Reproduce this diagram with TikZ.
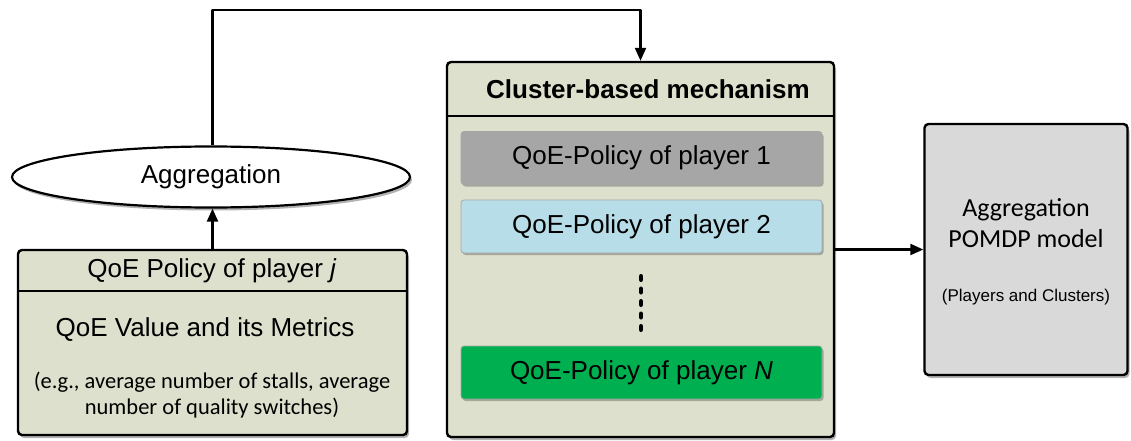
\documentclass[tikz,border=0pt]{standalone}
\usepackage{fontspec}
\setmainfont{Liberation Sans}
\newfontfamily\calib{Carlito}
\usetikzlibrary{shapes.geometric,arrows.meta,shadows}
\definecolor{panel}{RGB}{221,224,205}
\definecolor{greybox}{RGB}{166,166,166}
\definecolor{bluebox}{RGB}{183,221,232}
\definecolor{greenbox}{RGB}{0,176,80}
\definecolor{pomdp}{RGB}{217,217,217}
\begin{document}
\begin{tikzpicture}[x=1pt,y=-1pt,
  shd/.style={drop shadow={shadow xshift=2pt,shadow yshift=-3pt,opacity=0.3,fill=black}},
  bigbox/.style={draw=black,line width=2.4pt,rounded corners=4pt,shd,inner sep=0pt},
  policy/.style={draw=gray!70,line width=0.7pt,rounded corners=3pt,minimum width=361pt,minimum height=53pt,inner sep=0pt,font=\fontsize{26}{30}\selectfont,drop shadow={shadow xshift=1.5pt,shadow yshift=-2pt,opacity=0.25,fill=black}},
  txt/.style={inner sep=0pt,font=\fontsize{26}{30}\selectfont},
  conn/.style={line width=2.2pt,line join=round},
  arr/.style={conn,-{Triangle[length=13pt,width=11pt]}}
]
\useasboundingbox (0,0) rectangle (1131,441);

% left QoE box
\node[bigbox,fill=panel,minimum width=389pt,minimum height=185pt] (qoe) at (212.5,342.5) {};
\draw[line width=1.2pt] (qoe.west |- 0,291) -- (qoe.east |- 0,291);
\node[txt] (qoet) at (212,271) {QoE Policy of player \textit{j}};
\node[txt] (qoev) at (205,330) {QoE Value and its Metrics};
\node[inner sep=0pt,font=\calib\fontsize{22.5}{26}\selectfont,align=center] (qoem) at (212,395)
  {(e.g., average number of stalls, average\\[0pt]number of quality switches)};

% ellipse
\node[ellipse,draw=black,line width=2.2pt,fill=white,minimum width=398pt,minimum height=61pt,inner sep=0pt,shd,font=\fontsize{26}{30}\selectfont] (ell) at (211,177) {Aggregation};

% cluster box
\node[bigbox,fill=panel,minimum width=387pt,minimum height=375pt] (cluster) at (640.5,249.5) {};
\draw[line width=1.2pt] (cluster.west |- 0,116) -- (cluster.east |- 0,116);
\node[txt,font=\bfseries\fontsize{26}{30}\selectfont] (ctitle) at (648,89) {Cluster-based mechanism};
\node[policy,fill=greybox] (p1) at (641.5,158) {QoE-Policy of player 1};
\node[policy,fill=bluebox] (p2) at (641.5,226.5) {QoE-Policy of player 2};
\node[policy,fill=greenbox] (pN) at (641.5,372.5) {QoE-Policy of player \textit{N}};
\coordinate (d1) at (641,276.25);
\coordinate (d2) at (641,329.75);
\draw[line width=4.5pt,line cap=round,dash pattern=on 3.5pt off 9pt] (d1) -- (d2);

% POMDP box
\node[bigbox,fill=pomdp,minimum width=203pt,minimum height=251pt] (pom) at (1026,249.5) {};
\node[inner sep=0pt,font=\calib\fontsize{26}{31}\selectfont,align=center] (pomt) at (1026,223.5) {Aggregation\\POMDP model};
\node[inner sep=0pt,font=\fontsize{17}{20}\selectfont] (pomp) at (1026,297) {(Players and Clusters)};

% connectors
\coordinate (corner) at (212.5,10);
\draw[arr] (qoe.north) -- (ell.south -| qoe.north);
\draw[arr] (ell.north -| corner) -- (corner) -| (cluster.north);
\draw[arr] (cluster.east) -- (pom.west);
\end{tikzpicture}
\end{document}
